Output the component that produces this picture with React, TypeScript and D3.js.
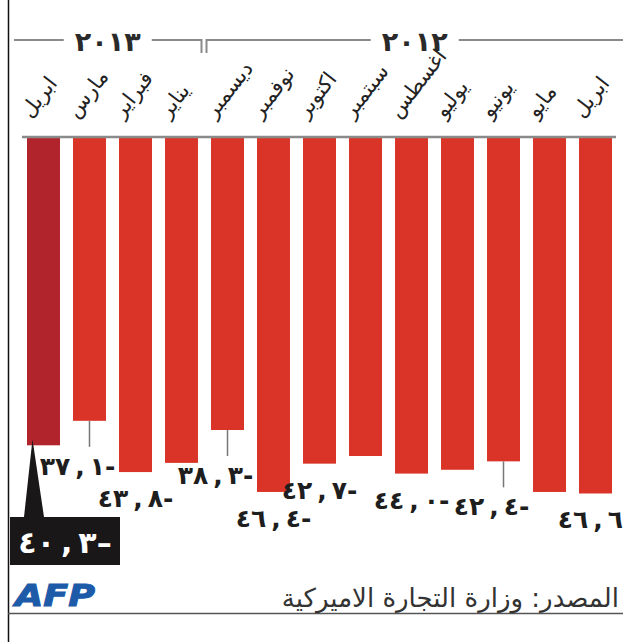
import React from "react";
import * as d3 from "d3";

// chronological order, April 2012 -> April 2013 (drawn right to left)
const months = ["ابريل", "مايو", "يونيو", "يوليو", "اغسطس", "سبتمبر", "اكتوبر", "نوفمبر", "ديسمبر", "يناير", "فبراير", "مارس", "ابريل"];
const deficits = [-46.6, -46.4, -42.4, -43.5, -44.0, -41.7, -42.7, -46.4, -38.3, -42.6, -43.8, -37.1, -40.3];
// how the value label is shown under each bar
const labelModes = ["below", "none", "line", "none", "below", "none", "below", "below", "line", "none", "below", "line", "box"];
const yearNames = ["٢٠١٢", "٢٠١٣"];
const yearStart = [0, 9];
const sourceText = "المصدر: وزارة التجارة الاميركية";

const W = 623;
const H = 642;
const TOP = 137;

const arDigits = "٠١٢٣٤٥٦٧٨٩";
const toAr = (s: string) => s.replace(/[0-9]/g, (d) => arDigits[+d]);
const fmt = (v: number, dash = "-") => {
  const [i, f] = Math.abs(v).toFixed(1).split(".");
  return toAr(i) + "\u2009,\u2009" + toAr(f) + dash;
};

export default function App() {
  const idx = d3.range(months.length);
  const x = d3
    .scaleBand<number>()
    .domain(idx.slice().reverse())
    .range([27, 612])
    .paddingInner(0.283)
    .paddingOuter(0);
  const y = d3.scaleLinear().domain([0, 50]).range([TOP, TOP + 382.5]);

  const bw = x.bandwidth();
  const cx = (i: number) => (x(i) as number) + bw / 2;

  // year brackets
  const boundary = ((x(yearStart[1] - 1) as number) + (x(yearStart[1]) as number) + bw) / 2;
  const groups = [
    { name: yearNames[0], x0: boundary + 2, x1: W },
    { name: yearNames[1], x0: 14, x1: boundary - 3 },
  ];

  const font = "'DejaVu Sans', sans-serif";

  return (
    <svg width={W} height={H} style={{ position: "absolute", left: 0, top: 0, background: "#fff" }}>
      {/* frame */}
      <line x1={8.5} y1={0} x2={8.5} y2={H} stroke="#111" strokeWidth={1.5} />
      <line x1={8} y1={613.5} x2={W} y2={613.5} stroke="#555" strokeWidth={1.5} />

      {/* year headers */}
      {groups.map((g, k) => {
        const mid = (g.x0 + g.x1) / 2;
        const half = 44;
        return (
          <g key={k}>
            <path
              d={
                k === 0
                  ? `M${g.x0},53 V40 H${mid - half} M${mid + half},40 H${g.x1}`
                  : `M${g.x0},40 H${mid - half} M${mid + half},40 H${g.x1} V53`
              }
              fill="none"
              stroke="#8a8a8a"
              strokeWidth={2}
            />
            <text
              x={mid}
              y={51}
              textAnchor="middle"
              fontFamily={font}
              fontWeight="bold"
              fontSize={27}
              letterSpacing={5}
              fill="#2a2a2a"
              direction="ltr"
              unicodeBidi="bidi-override"
            >
              {g.name}
            </text>
          </g>
        );
      })}

      {/* month labels */}
      {idx.map((i) => (
        <text
          key={"m" + i}
          transform={`translate(${cx(i) - 13},${119}) rotate(-52)`}
          textAnchor="start"
          fontFamily={font}
          fontSize={21}
          fill="#222"
        >
          {months[i]}
        </text>
      ))}

      {/* bars */}
      {idx.map((i) => (
        <rect
          key={"b" + i}
          x={x(i)}
          y={TOP}
          width={bw}
          height={y(-deficits[i]) - TOP}
          fill={i === months.length - 1 ? "#b2242c" : "#d93427"}
        />
      ))}
      <line x1={22} y1={TOP} x2={616} y2={TOP} stroke="#8a8a8a" strokeWidth={2.5} />

      {/* value labels */}
      {idx.map((i) => {
        const mode = labelModes[i];
        const b = y(-deficits[i]);
        if (mode === "none") return null;
        if (mode === "box") {
          const bx = 10;
          const by = 517;
          return (
            <g key={"v" + i}>
              <path d={`M${cx(i) - 11},${b - 6} L${bx + 14},${by} L${bx + 34},${by} Z`} fill="#1a1718" />
              <rect x={bx} y={by} width={110} height={48} fill="#1a1718" />
              <text
                x={bx + 55}
                y={by + 36}
                textAnchor="middle"
                fontFamily={font}
                fontWeight="bold"
                fontSize={30}
                fill="#fff"
                direction="ltr"
                unicodeBidi="bidi-override"
              >
                {fmt(deficits[i], "–")}
              </text>
            </g>
          );
        }
        const lineLen = mode === "line" ? 26 : 0;
        return (
          <g key={"v" + i}>
            {mode === "line" && (
              <line x1={cx(i)} y1={b} x2={cx(i)} y2={b + lineLen} stroke="#777" strokeWidth={1.5} />
            )}
            <text
              x={cx(i) - (mode === "line" ? 12 : 0)}
              y={b + lineLen + (mode === "line" ? 28 : 35)}
              textAnchor="middle"
              fontFamily={font}
              fontWeight="bold"
              fontSize={25}
              fill="#1e1e1e"
              direction="ltr"
              unicodeBidi="bidi-override"
            >
              {fmt(deficits[i])}
            </text>
          </g>
        );
      })}

      {/* footer */}
      <text
        x={15}
        y={606}
        fontFamily="'DejaVu Sans', sans-serif"
        fontWeight="bold"
        fontStyle="italic"
        fontSize={30}
        fill="#1d5aa8"
        stroke="#1d5aa8"
        strokeWidth={1}
        textLength={80}
        lengthAdjust="spacingAndGlyphs"
      >
        AFP
      </text>
      <text x={619} y={607} direction="rtl" textAnchor="start" fontFamily={font} fontSize={26} fill="#333">
        {sourceText}
      </text>
    </svg>
  );
}
